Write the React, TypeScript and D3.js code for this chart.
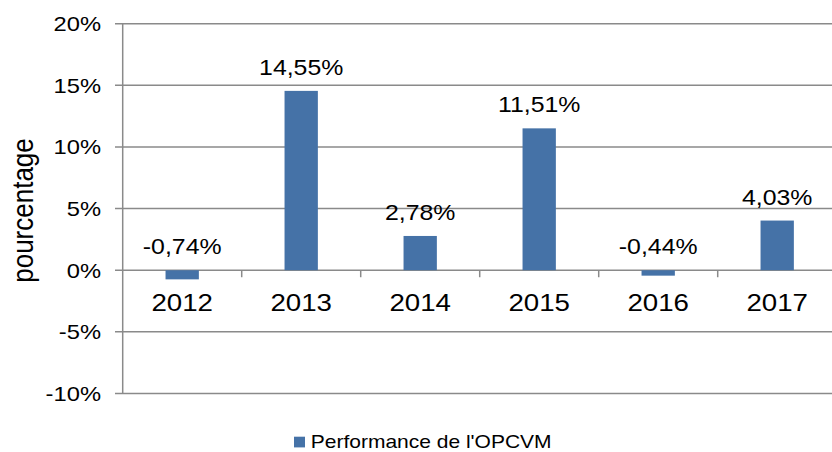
import * as d3 from "d3";

const years = ["2012", "2013", "2014", "2015", "2016", "2017"];
const performance = [-0.74, 14.55, 2.78, 11.51, -0.44, 4.03];
const yTicks = [-10, -5, 0, 5, 10, 15, 20];
const seriesName = "Performance de l'OPCVM";

const W = 832;
const H = 452;
const SX = 1.13; // the picture is a bit wider than tall
const FONT = "'Liberation Sans', Arial, sans-serif";
const BAR = "#4572A7";
const GRID = "#8a8a8a";

const fmt = (v: number) => v.toFixed(2).replace(".", ",") + "%";

export default function App() {
  const y = d3.scaleLinear().domain([-10, 20]).range([393.5, 23.7]);
  const x = d3.scaleBand().domain(years).range([122.7, 836.7]);
  const barW = x.bandwidth() * 0.28;
  const left = x.range()[0];

  return (
    <svg
      width={W}
      height={H}
      style={{ position: "absolute", left: 0, top: 0, background: "#fff" }}
      fontFamily={FONT}
    >
      {yTicks.map((t) => (
        <g key={t}>
          <line x1={115} x2={W} y1={y(t)} y2={y(t)} stroke={GRID} strokeWidth={1.5} />
          <text
            transform={`translate(101,${y(t) + 7.5}) scale(${SX},1)`}
            textAnchor="end"
            fontSize={21}
            fill="#000"
          >
            {t}%
          </text>
        </g>
      ))}

      <line x1={left} x2={left} y1={y(-10)} y2={y(20)} stroke={GRID} strokeWidth={1.5} />
      {years.slice(1).map((yr) => (
        <line
          key={yr}
          x1={x(yr)!}
          x2={x(yr)!}
          y1={y(0)}
          y2={y(0) + 7}
          stroke={GRID}
          strokeWidth={1.5}
        />
      ))}

      {years.map((yr, i) => {
        const v = performance[i];
        const cx = x(yr)! + x.bandwidth() / 2;
        const top = y(Math.max(v, 0));
        return (
          <g key={yr}>
            <rect
              x={cx - barW / 2}
              y={top}
              width={barW}
              height={Math.abs(y(v) - y(0))}
              fill={BAR}
            />
            <text
              transform={`translate(${cx},${top - 16}) scale(${SX},1)`}
              textAnchor="middle"
              fontSize={22}
              fill="#000"
            >
              {fmt(v)}
            </text>
            <text
              transform={`translate(${cx},311) scale(${SX},1)`}
              textAnchor="middle"
              fontSize={24.5}
              fill="#000"
            >
              {yr}
            </text>
          </g>
        );
      })}

      <text
        transform={`translate(33.3,210.5) scale(${SX},1) rotate(-90)`}
        textAnchor="middle"
        fontSize={26}
        fill="#000"
      >
        pourcentage
      </text>

      <rect x={294} y={436.7} width={11} height={10.7} fill={BAR} />
      <text
        transform={`translate(310.7,448.3) scale(${SX},1)`}
        fontSize={18.6}
        fill="#000"
      >
        {seriesName}
      </text>
    </svg>
  );
}
